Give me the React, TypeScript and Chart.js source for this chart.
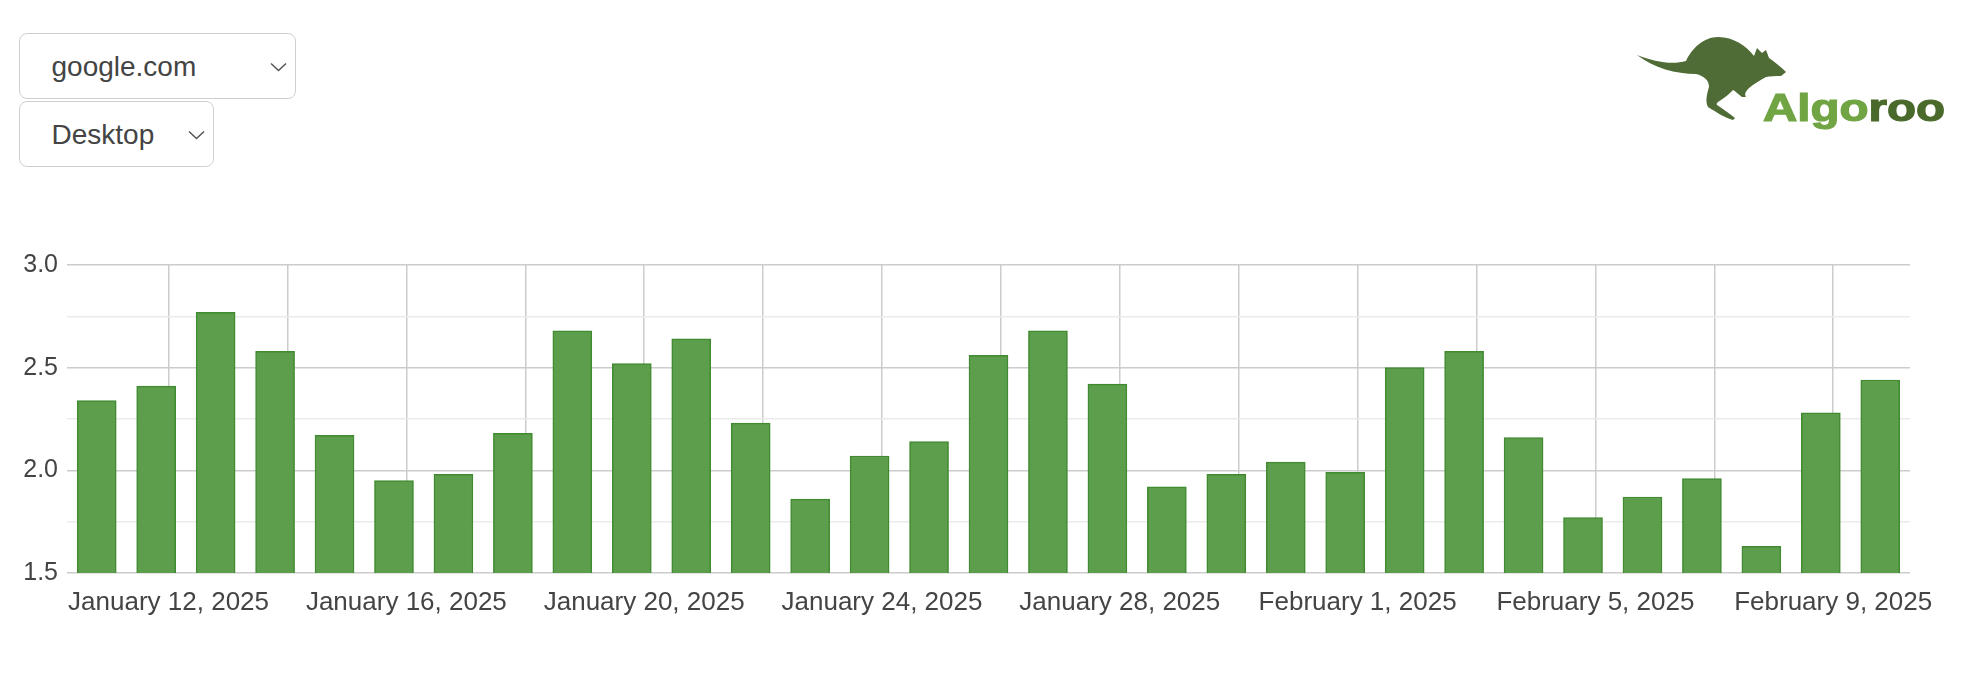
import React, { useEffect, useRef } from 'react';
import { Chart, registerables } from 'chart.js';

Chart.register(...registerables);

// ---- data ----
const DATES = [
  '2025-01-11', '2025-01-12', '2025-01-13', '2025-01-14', '2025-01-15', '2025-01-16',
  '2025-01-17', '2025-01-18', '2025-01-19', '2025-01-20', '2025-01-21', '2025-01-22',
  '2025-01-23', '2025-01-24', '2025-01-25', '2025-01-26', '2025-01-27', '2025-01-28',
  '2025-01-29', '2025-01-30', '2025-01-31', '2025-02-01', '2025-02-02', '2025-02-03',
  '2025-02-04', '2025-02-05', '2025-02-06', '2025-02-07', '2025-02-08', '2025-02-09',
  '2025-02-10',
];
const VALUES = [
  2.34, 2.41, 2.77, 2.58, 2.17, 1.95, 1.98, 2.18, 2.68, 2.52, 2.64, 2.23, 1.86, 2.07, 2.14,
  2.56, 2.68, 2.42, 1.92, 1.98, 2.04, 1.99, 2.50, 2.58, 2.16, 1.77, 1.87, 1.96, 1.63, 2.28,
  2.44,
];
const X_TICK_LABELS = [
  'January 12, 2025', 'January 16, 2025', 'January 20, 2025', 'January 24, 2025',
  'January 28, 2025', 'February 1, 2025', 'February 5, 2025', 'February 9, 2025',
];
const Y_MIN = 1.5;
const Y_MAX = 3.0;
const Y_STEP = 0.25;
const SITE_OPTIONS = ['google.com'];
const DEVICE_OPTIONS = ['Desktop'];

// dates are UTC midnights, displayed in a UTC-5 timezone
const TZ_OFFSET_HOURS = -5;
const X_ORIGIN = Date.UTC(2025, 0, 12); // January 12, 2025 local midnight = day 0
const DAY_MS = 86400000;
const LABEL_EVERY_DAYS = 4;
const GRID_EVERY_DAYS = 2;

const FONT = "'Liberation Sans', Arial, Helvetica, sans-serif";

function dayOffset(s: string): number {
  const [y, m, d] = s.split('-').map(Number);
  return (Date.UTC(y, m - 1, d) + TZ_OFFSET_HOURS * 3600000 - X_ORIGIN) / DAY_MS;
}

function isMajorY(v: number): boolean {
  return Math.abs(v * 2 - Math.round(v * 2)) < 1e-6;
}

function Chevron({ left, top }: { left: number; top: number }) {
  return (
    <svg width={17} height={10} style={{ position: 'absolute', left, top }}>
      <polyline points="1,1.5 8.5,8.5 16,1.5" fill="none" stroke="#555" strokeWidth={1.5} />
    </svg>
  );
}

function FakeSelect({ left, top, width, text }: { left: number; top: number; width: number; text: string }) {
  return (
    <div
      style={{
        position: 'absolute',
        left,
        top,
        width,
        height: 66,
        boxSizing: 'border-box',
        border: '1.5px solid #cfcfcf',
        borderRadius: 8,
        background: '#fff',
        display: 'flex',
        alignItems: 'center',
        paddingLeft: 31.5,
        paddingTop: 2,
        fontFamily: FONT,
        fontSize: 28,
        color: '#444',
      }}
    >
      {text}
      <Chevron left={width - 27} top={28} />
    </div>
  );
}

function Logo() {
  return (
    <svg
      width={330}
      height={110}
      viewBox="0 0 330 110"
      style={{ position: 'absolute', left: 1630, top: 30 }}
    >
      <path
        fill="#4f6b36"
        d="M 7 25 C 25 32 42 35 56 31 C 62 18 74 7 88 7 C 104 7 116 16 124 26 L 127 18 L 132 23 L 136 20 L 139 28 C 145 32 151 37 156 42 L 151 46 C 145 46 140 46 136 47 C 130 50 124 54 119 58 C 116 61 114 64 116 67 L 112 67 C 108 64 105 61 103 60 C 100 63 96 67 91 70 C 88 72 86 73 87 75 C 93 79 99 83 105 88 L 103 90 C 95 88 86 82 78 77 C 75 71 77 64 79 57 C 79 50 74 46 66 44 C 46 44 24 38 7 25 Z"
      />
      <text
        x={133}
        y={91}
        fontFamily={FONT}
        fontWeight="bold"
        fontSize={38}
        textLength={182}
        lengthAdjust="spacingAndGlyphs"
        strokeWidth={1.2}
      >
        <tspan fill="#71a544" stroke="#71a544">Algo</tspan>
        <tspan fill="#4a6a2c" stroke="#4a6a2c">roo</tspan>
      </text>
    </svg>
  );
}

export default function App() {
  const canvasRef = useRef<HTMLCanvasElement | null>(null);

  useEffect(() => {
    const canvas = canvasRef.current;
    if (!canvas) return;
    const xs = DATES.map(dayOffset);
    const gridDays: number[] = [];
    for (let d = Math.ceil(xs[0] / GRID_EVERY_DAYS) * GRID_EVERY_DAYS; d <= xs[xs.length - 1]; d += GRID_EVERY_DAYS) {
      gridDays.push(d);
    }
    const chart = new Chart(canvas, {
      type: 'bar',
      data: {
        datasets: [
          {
            data: xs.map((x, i) => ({ x, y: VALUES[i] })),
            backgroundColor: '#5c9e4c',
            borderColor: '#408b30',
            borderWidth: 1.5,
            barThickness: 39,
          } as any,
        ],
      },
      options: {
        responsive: false,
        animation: false,
        layout: { padding: { left: 0, right: 62, top: 265, bottom: 45 } },
        plugins: { legend: { display: false }, tooltip: { enabled: false } },
        scales: {
          x: {
            type: 'linear',
            offset: false,
            min: xs[0] - 0.5,
            max: xs[xs.length - 1] + 0.5,
            afterBuildTicks: (s: any) => {
              s.ticks = gridDays.map((v) => ({ value: v }));
            },
            afterFit: (s: any) => {
              s.height = 60;
            },
            grid: { color: '#cccccc', lineWidth: 1.5, drawTicks: false, offset: false },
            border: { display: false },
            ticks: {
              autoSkip: false,
              maxRotation: 0,
              minRotation: 0,
              padding: 14,
              color: '#444444',
              font: { family: FONT, size: 26 },
              callback: (value: any) => {
                const v = Number(value);
                if (Math.abs(v % LABEL_EVERY_DAYS) < 1e-9) {
                  return X_TICK_LABELS[Math.round(v / LABEL_EVERY_DAYS)] ?? '';
                }
                return '';
              },
            },
          },
          y: {
            min: Y_MIN,
            max: Y_MAX,
            afterFit: (s: any) => {
              s.width = 67;
            },
            grid: {
              color: (ctx: any) => (ctx.tick && isMajorY(ctx.tick.value) ? '#cccccc' : '#ebebeb'),
              lineWidth: 1.5,
              drawTicks: false,
            },
            border: { display: false },
            ticks: {
              stepSize: Y_STEP,
              padding: 9,
              color: '#444444',
              font: { family: FONT, size: 25 },
              callback: (value: any) => {
                const v = Number(value);
                return isMajorY(v) ? v.toFixed(1) : '';
              },
            },
          },
        },
      } as any,
    });
    return () => chart.destroy();
  }, []);

  return (
    <div
      style={{
        position: 'absolute',
        left: 0,
        top: 0,
        width: 1972,
        height: 678,
        background: '#fff',
        overflow: 'hidden',
      }}
    >
      <canvas
        ref={canvasRef}
        width={1972}
        height={678}
        style={{ position: 'absolute', left: 0, top: 0, width: 1972, height: 678 }}
      />
      <FakeSelect left={19} top={33} width={277} text={SITE_OPTIONS[0]} />
      <FakeSelect left={19} top={101} width={195} text={DEVICE_OPTIONS[0]} />
      <Logo />
    </div>
  );
}
